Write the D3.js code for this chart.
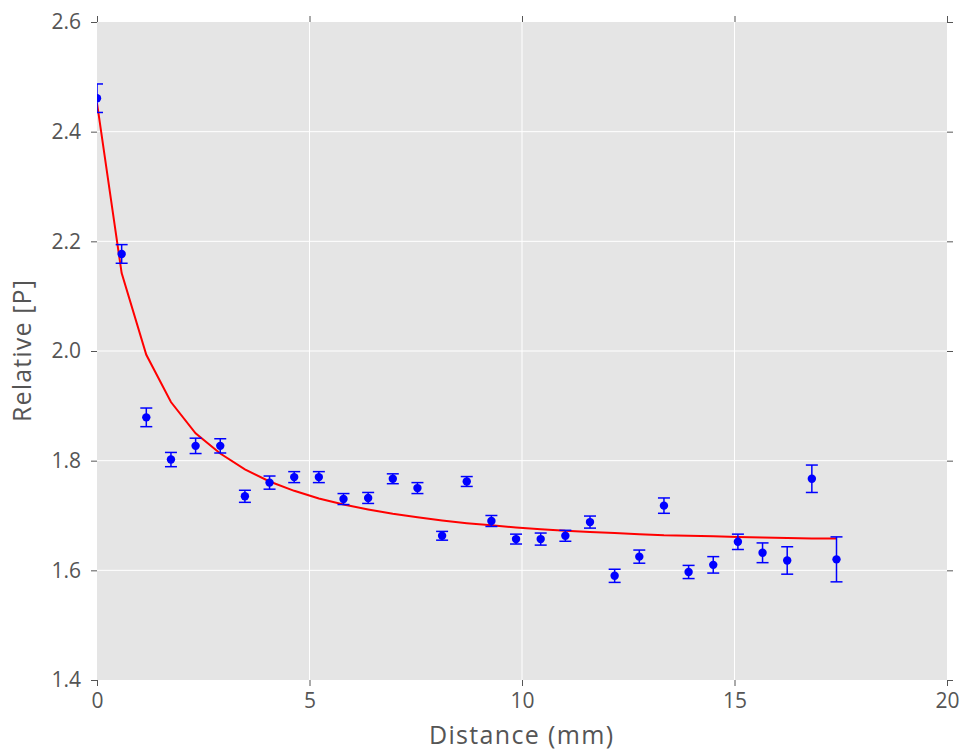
<!DOCTYPE html>
<html><head><meta charset="utf-8">
<script src="https://cdn.jsdelivr.net/npm/d3@7"></script>
<style>body{margin:0;background:#fff}svg{display:block}</style>
</head><body>
<svg id="c" width="961" height="750"></svg>
<script>
const distance = [0,0.58,1.16,1.74,2.32,2.9,3.48,4.06,4.64,5.22,5.8,6.38,6.96,7.54,8.12,8.7,9.28,9.86,10.44,11.02,11.6,12.18,12.76,13.34,13.92,14.5,15.08,15.66,16.24,16.82,17.4];
const relative = [2.461,2.177,1.879,1.802,1.827,1.827,1.735,1.760,1.770,1.770,1.730,1.732,1.767,1.750,1.663,1.762,1.690,1.657,1.657,1.663,1.688,1.590,1.625,1.718,1.597,1.610,1.652,1.632,1.618,1.767,1.620];
const errors = [0.026,0.017,0.017,0.013,0.014,0.013,0.011,0.012,0.010,0.010,0.010,0.010,0.009,0.010,0.008,0.009,0.010,0.009,0.011,0.010,0.011,0.012,0.012,0.014,0.012,0.015,0.014,0.018,0.025,0.025,0.041];
const fitValues = [2.452,2.142,1.993,1.907,1.850,1.813,1.784,1.762,1.745,1.731,1.720,1.711,1.703,1.697,1.691,1.686,1.682,1.678,1.675,1.672,1.670,1.668,1.666,1.664,1.663,1.662,1.661,1.660,1.659,1.658,1.658];
const xTicks = [0,5,10,15,20];
const yTicks = [1.4,1.6,1.8,2.0,2.2,2.4,2.6];

const svg = d3.select("#c");
const L=97,R=947,T=22,B=680;
const x = d3.scaleLinear().domain([0,20]).range([L,R]);
const y = d3.scaleLinear().domain([1.4,2.6]).range([B,T]);
const font = "'Open Sans', 'Noto Sans', sans-serif";
const tickCol = "#555";

svg.append("defs").append("clipPath").attr("id","plotclip")
  .append("rect").attr("x",L).attr("y",T).attr("width",R-L).attr("height",B-T);

svg.append("rect").attr("x",L).attr("y",T).attr("width",R-L).attr("height",B-T).attr("fill","#e5e5e5");

// grid
svg.append("g").selectAll("line").data(xTicks.slice(1,-1)).join("line")
  .attr("x1",d=>x(d)).attr("x2",d=>x(d)).attr("y1",T).attr("y2",B)
  .attr("stroke","#fff").attr("stroke-width",1);
svg.append("g").selectAll("line").data(yTicks.slice(1,-1)).join("line")
  .attr("y1",d=>y(d)).attr("y2",d=>y(d)).attr("x1",L).attr("x2",R)
  .attr("stroke","#fff").attr("stroke-width",1);

function styleAxis(g){
  g.select(".domain").remove();
  g.selectAll(".tick line").attr("stroke",tickCol).attr("stroke-width",1);
  g.selectAll(".tick text").attr("fill",tickCol).attr("font-family",font).attr("font-size",21);
}
const fmtY = d3.format(".1f");
svg.append("g").attr("transform",`translate(0,${B})`)
  .call(d3.axisBottom(x).tickValues(xTicks).tickSize(6).tickPadding(7).tickFormat(d3.format("d")))
  .call(styleAxis);
svg.append("g").attr("transform",`translate(0,${T})`)
  .call(d3.axisTop(x).tickValues(xTicks).tickSize(6).tickFormat(""))
  .call(styleAxis);
svg.append("g").attr("transform",`translate(${L},0)`)
  .call(d3.axisLeft(y).tickValues(yTicks).tickSize(6).tickPadding(10).tickFormat(fmtY))
  .call(styleAxis);
svg.append("g").attr("transform",`translate(${R},0)`)
  .call(d3.axisRight(y).tickValues(yTicks).tickSize(6).tickFormat(""))
  .call(styleAxis);

const plot = svg.append("g").attr("clip-path","url(#plotclip)");

// fit line
plot.append("path").datum(distance.map((d,i)=>[d,fitValues[i]]))
  .attr("d",d3.line().x(d=>x(d[0])).y(d=>y(d[1])))
  .attr("fill","none").attr("stroke","#ff0000").attr("stroke-width",2);

// error bars
const eb = plot.append("g").attr("stroke","#0000ff").attr("stroke-width",1.5);
distance.forEach((d,i)=>{
  const cx=x(d), y1=y(relative[i]+errors[i]), y2=y(relative[i]-errors[i]);
  eb.append("line").attr("x1",cx).attr("x2",cx).attr("y1",y1).attr("y2",y2);
  eb.append("line").attr("x1",cx-6).attr("x2",cx+6).attr("y1",y1).attr("y2",y1);
  eb.append("line").attr("x1",cx-6).attr("x2",cx+6).attr("y1",y2).attr("y2",y2);
});
plot.append("g").selectAll("circle").data(distance).join("circle")
  .attr("cx",d=>x(d)).attr("cy",(d,i)=>y(relative[i])).attr("r",4.2)
  .attr("fill","#0000ff");

svg.append("text").attr("x",521).attr("y",744).attr("text-anchor","middle")
  .attr("font-family",font).attr("font-size",25).attr("fill",tickCol)
  .attr("textLength",184).attr("lengthAdjust","spacing").text("Distance (mm)");
svg.append("text").attr("transform",`translate(31,351) rotate(-90)`).attr("text-anchor","middle")
  .attr("font-family",font).attr("font-size",25).attr("fill",tickCol)
  .attr("textLength",142).attr("lengthAdjust","spacing").text("Relative [P]");
</script>
</body></html>
